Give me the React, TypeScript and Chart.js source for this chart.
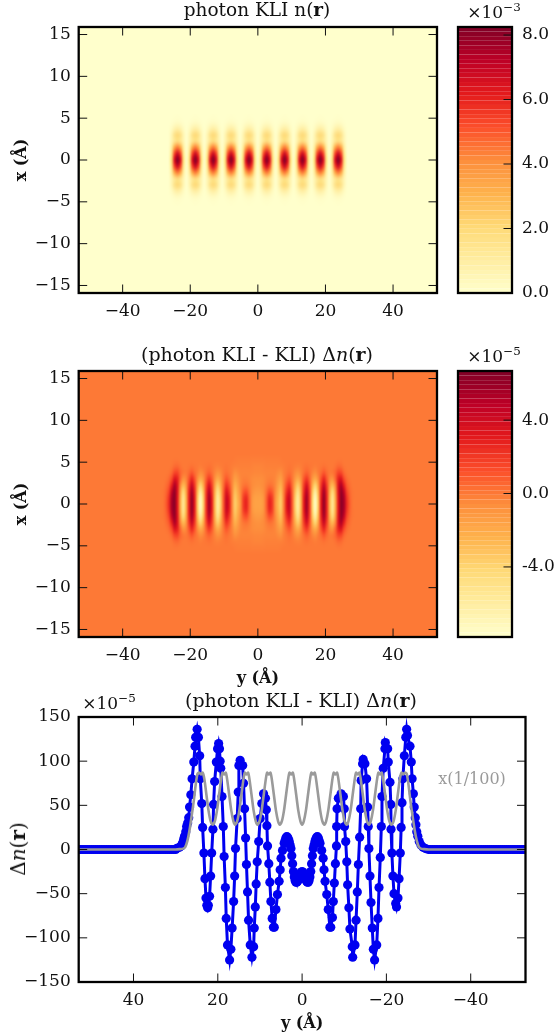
import React, { useEffect, useRef } from "react";
import { Chart, registerables } from "chart.js";

Chart.register(...registerables);

const SERIF = "'DejaVu Serif', serif";
const TICK_FONT = { family: "'DejaVu Serif', serif", size: 17 };

const yTicks40 = [-40, -20, 0, 20, 40];
const xTicks15 = [-15, -10, -5, 0, 5, 10, 15];
const lineTicksY = [-150, -100, -50, 0, 50, 100, 150];
const densityBarTicks = [0, 2, 4, 6, 8];
const diffBarTicks = [-4, 0, 4];

// Colormap stops (low to high)
const heatStops = ["#ffffcc", "#ffeda0", "#fed976", "#feb24c", "#fd8d3c", "#fc4e2a", "#e31a1c", "#bd0026", "#800026"];

// Panel 1: quadrant of the density map, unit 1e-3. Columns are |y| in angstrom, rows are |x|.
const densityColsY = [0, 0.88, 1.76, 2.64, 3.52, 4.4, 5.28, 6.16, 7.04, 7.92, 8.8, 9.68, 10.56, 11.44, 12.32, 13.2, 14.08, 14.96, 15.84, 16.72, 17.6, 18.48, 19.36, 20.24, 21.12, 22, 22.88, 23.76, 24.64, 25.52, 26.4, 27.28, 28.16];
const densityRowsX = [0, 0.75, 1.5, 2.25, 3, 3.75, 4.5, 5.25, 6];
const densityRow0 = [0.1, 2, 6.6, 8.2, 6.6, 2, 0.1, 2, 6.6, 8.2, 6.6, 2, 0.1, 2, 6.6, 8.2, 6.6, 2, 0.1, 2, 6.6, 8.2, 6.6, 2, 0.1, 2, 6.6, 8.2, 6.6, 2, 0.1, 0, 0];
const densityRow1 = [0.08, 1.6, 5.4, 6.8, 5.4, 1.6, 0.08, 1.6, 5.4, 6.8, 5.4, 1.6, 0.08, 1.6, 5.4, 6.8, 5.4, 1.6, 0.08, 1.6, 5.4, 6.8, 5.4, 1.6, 0.08, 1.6, 5.4, 6.8, 5.4, 1.6, 0.08, 0, 0];
const densityRow2 = [0.05, 1.1, 3.4, 4.4, 3.4, 1.1, 0.05, 1.1, 3.4, 4.4, 3.4, 1.1, 0.05, 1.1, 3.4, 4.4, 3.4, 1.1, 0.05, 1.1, 3.4, 4.4, 3.4, 1.1, 0.05, 1.1, 3.4, 4.4, 3.4, 1.1, 0.05, 0, 0];
const densityRow3 = [0.03, 0.6, 1.4, 1.8, 1.4, 0.6, 0.03, 0.6, 1.4, 1.8, 1.4, 0.6, 0.03, 0.6, 1.4, 1.8, 1.4, 0.6, 0.03, 0.6, 1.4, 1.8, 1.4, 0.6, 0.03, 0.6, 1.4, 1.8, 1.4, 0.6, 0.03, 0, 0];
const densityRow4 = [0.03, 0.6, 1.6, 2, 1.6, 0.6, 0.03, 0.6, 1.6, 2, 1.6, 0.6, 0.03, 0.6, 1.6, 2, 1.6, 0.6, 0.03, 0.6, 1.6, 2, 1.6, 0.6, 0.03, 0.6, 1.6, 2, 1.6, 0.6, 0.03, 0, 0];
const densityRow5 = [0.02, 0.25, 0.7, 0.9, 0.7, 0.25, 0.02, 0.25, 0.7, 0.9, 0.7, 0.25, 0.02, 0.25, 0.7, 0.9, 0.7, 0.25, 0.02, 0.25, 0.7, 0.9, 0.7, 0.25, 0.02, 0.25, 0.7, 0.9, 0.7, 0.25, 0.02, 0, 0];
const densityRow6 = [0, 0.05, 0.15, 0.2, 0.15, 0.05, 0, 0.05, 0.15, 0.2, 0.15, 0.05, 0, 0.05, 0.15, 0.2, 0.15, 0.05, 0, 0.05, 0.15, 0.2, 0.15, 0.05, 0, 0.05, 0.15, 0.2, 0.15, 0.05, 0, 0, 0];
const densityRow7 = [0, 0, 0.02, 0.03, 0.02, 0, 0, 0, 0.02, 0.03, 0.02, 0, 0, 0, 0.02, 0.03, 0.02, 0, 0, 0, 0.02, 0.03, 0.02, 0, 0, 0, 0.02, 0.03, 0.02, 0, 0, 0, 0];
const densityRow8 = [0, 0, 0, 0, 0, 0, 0, 0, 0, 0, 0, 0, 0, 0, 0, 0, 0, 0, 0, 0, 0, 0, 0, 0, 0, 0, 0, 0, 0, 0, 0, 0, 0];
const densityRows = [densityRow0, densityRow1, densityRow2, densityRow3, densityRow4, densityRow5, densityRow6, densityRow7, densityRow8];

// Panel 2: quadrant of the difference map, unit 1e-5.
const diffColsY = [0, 0.85, 1.7, 2.55, 3.4, 4.25, 5.1, 5.95, 6.8, 7.65, 8.5, 9.35, 10.2, 11.05, 11.9, 12.75, 13.6, 14.45, 15.3, 16.15, 17, 17.85, 18.7, 19.55, 20.4, 21.25, 22.1, 22.95, 23.8, 24.65, 25.5, 26.35, 27.2, 28.05, 28.9];
const diffRowsX = [0, 0.75, 1.5, 2.25, 3, 3.75, 4.5, 5.25, 6];
const diffRow0 = [-1.6, -1.6, -1, 0.8, 2.8, 2, -0.6, -2.6, -3.6, -0.2, 3.2, 4.4, 0.8, -3.8, -6, -2.5, 3, 5.6, 2, -4, -7.5, -3.4, 3, 6, 2.6, -2.6, -5.5, -2, 3.2, 6.3, 5.4, 2.4, 0.8, 0.1, 0];
const diffRow1 = [-1.5, -1.5, -0.9, 0.7, 2.5, 1.8, -0.5, -2.4, -3.4, -0.2, 3, 4.2, 0.8, -3.6, -5.8, -2.4, 2.9, 5.5, 2, -3.8, -7.2, -3.2, 2.9, 5.9, 2.6, -2.5, -5.3, -1.8, 3.2, 6.2, 5.2, 2.2, 0.7, 0.1, 0];
const diffRow2 = [-1.2, -1.1, -0.6, 0.3, 1.3, 0.9, -0.4, -2, -2.9, -0.2, 2.2, 3.4, 0.6, -3, -5, -2, 2.4, 4.8, 1.8, -3.2, -6, -2.6, 2.6, 5.4, 2.4, -2, -4.3, -1.2, 3.4, 6, 4.4, 1.6, 0.5, 0.1, 0];
const diffRow3 = [-0.8, -0.7, -0.5, -0.1, 0.2, 0.1, -0.4, -1.5, -2.2, -0.3, 1.3, 2.2, 0.3, -2.2, -3.6, -1.4, 1.8, 3.6, 1.3, -2.2, -4, -1.6, 2, 4.2, 1.8, -1.2, -2.6, -0.3, 3.4, 5.2, 2.8, 0.9, 0.3, 0, 0];
const diffRow4 = [-0.6, -0.6, -0.5, -0.3, -0.2, -0.2, -0.4, -1, -1.4, -0.3, 0.5, 1, 0.1, -1.2, -2, -0.7, 1, 2, 0.7, -1.1, -2, -0.6, 1.2, 2.6, 1, -0.4, -0.8, 0.6, 2.8, 3.4, 1.4, 0.4, 0.1, 0, 0];
const diffRow5 = [-0.4, -0.4, -0.35, -0.3, -0.3, -0.3, -0.3, -0.5, -0.7, -0.2, 0.1, 0.3, 0, -0.5, -0.8, -0.3, 0.3, 0.7, 0.3, -0.3, -0.6, -0.1, 0.4, 1, 0.4, 0, 0.1, 0.6, 1.6, 1.5, 0.5, 0.1, 0, 0, 0];
const diffRow6 = [-0.3, -0.3, -0.25, -0.2, -0.2, -0.2, -0.2, -0.2, -0.2, -0.1, 0, 0.1, 0, -0.1, -0.2, -0.1, 0.1, 0.2, 0.1, 0, -0.1, 0, 0.1, 0.2, 0.1, 0, 0, 0.2, 0.5, 0.4, 0.1, 0, 0, 0, 0];
const diffRow7 = [-0.15, -0.15, -0.15, -0.1, -0.1, -0.1, -0.1, -0.1, -0.05, 0, 0, 0, 0, 0, 0, 0, 0, 0, 0, 0, 0, 0, 0, 0, 0, 0, 0, 0, 0.05, 0.05, 0, 0, 0, 0, 0];
const diffRow8 = [0, 0, 0, 0, 0, 0, 0, 0, 0, 0, 0, 0, 0, 0, 0, 0, 0, 0, 0, 0, 0, 0, 0, 0, 0, 0, 0, 0, 0, 0, 0, 0, 0, 0, 0];
const diffRows = [diffRow0, diffRow1, diffRow2, diffRow3, diffRow4, diffRow5, diffRow6, diffRow7, diffRow8];

// Panel 3: blue series
const blueY = [
  53, 52.5, 52, 51.5, 51, 50.5, 50, 49.5, 49, 48.5, 48, 47.5, 47, 46.5, 46, 45.5, 45, 44.5, 44, 43.5, 43, 42.5, 42, 41.5, 41, 40.5, 40, 39.5, 39, 38.5, 38, 37.5, 37, 36.5, 36, 35.5, 35, 34.5, 34, 33.5, 33, 32.5, 32, 31.5, 31, 30.5, 30,
  29.7, 29.1, 28.7, 28.4, 28.1, 27.9, 27.6, 27.4, 27.15, 26.9, 26.7, 26.4, 26.1, 25.7, 25.4, 25.25, 24.9, 24.6, 24.3, 24.15, 23.8, 23.6, 23.3, 23.05, 22.8, 22.6, 22.4, 22.25, 21.95, 21.7, 21.45, 21.15, 21, 20.75, 20.35, 20.05, 19.8,
  19.6, 19.45, 19.3, 19, 18.7, 18.5, 18.2, 18, 17.7, 17.2, 16.9, 16.6, 16.25, 16, 15.8, 15.4, 15.15, 15, 14.7,
  14.1, 13.9, 13.65, 13.4, 13.2, 12.95, 12.7, 12.3, 11.9, 11.5, 11.35, 11.1, 10.9, 10.65, 10.3, 9.95, 9.55, 9.15,
  8.7, 8.5, 8.35, 8.2, 7.9, 7.65, 7.4, 7.1, 6.8, 6.6, 6.2, 5.85, 5.45, 5.2, 5, 4.65, 4.25, 4.05, 3.85, 3.65, 3.45, 3.25, 3.05, 2.85, 2.65, 2.45, 2.25, 2.05, 1.85, 1.65, 1.45, 1.25, 1.05, 0.85, 0.65, 0.45, 0.25, 0,
  -0.25, -0.45, -0.65, -0.85, -1.05, -1.25, -1.45, -1.65, -1.85, -2.05, -2.25, -2.45, -2.65, -2.85, -3.05, -3.25, -3.45, -3.65, -3.85, -4.05, -4.25, -4.65, -5, -5.2, -5.45, -5.85, -6.2, -6.6,
  -6.8, -7.2, -7.4, -7.65, -7.9, -8.15, -8.2, -8.3, -8.6, -9.25,
  -9.8, -10, -10.05, -10.35, -10.6, -10.8, -11.1, -11.35, -11.9, -12,
  -12.55, -12.8, -13.1, -13.35, -13.65, -13.9, -14, -14.35, -14.5,
  -14.9, -15.3, -15.55, -15.7, -15.85, -16.1, -16.35, -16.65, -16.9, -17.2,
  -17.7, -18, -18.25, -18.55, -18.8, -18.95, -19.25, -19.65, -19.75,
  -20.3, -20.45, -20.85, -21.05, -21.1, -21.3, -21.55, -21.8, -22.2, -22.4,
  -22.75, -23, -23.3, -23.5, -23.7, -23.9, -24.25, -24.6, -24.8,
  -25, -25.6, -25.9, -26.1, -26.4, -26.6, -26.85, -27, -27.2, -27.45, -27.8, -28.2, -28.7, -29.3,
  -30, -30.5, -31, -31.5, -32, -32.5, -33, -33.5, -34, -34.5, -35, -35.5, -36, -36.5, -37, -37.5, -38, -38.5, -39, -39.5, -40, -40.5, -41, -41.5, -42, -42.5, -43, -43.5, -44, -44.5, -45, -45.5, -46, -46.5, -47, -47.5, -48, -48.5, -49, -49.5, -50, -50.5, -51, -51.5, -52, -52.5, -53,
];
const blueDelta = [
  0, 0, 0, 0, 0, 0, 0, 0, 0, 0, 0, 0, 0, 0, 0, 0, 0, 0, 0, 0, 0, 0, 0, 0, 0, 0, 0, 0, 0, 0, 0, 0, 0, 0, 0, 0, 0, 0, 0, 0, 0, 0, 0, 0, 0, 0, 0,
  1.3, 2.5, 4, 7, 11.5, 15, 20, 26, 30, 36, 48, 62, 80, 99, 117, 127, 136, 127, 106, 80, 52, 25, -4, -33, -55, -63, -66, -63, -53, -30, -4, 23, 51, 77, 99, 114, 120,
  114, 100, 92, 60, 26, -8, -43, -78, -108, -125, -113, -89, -59, -30, 1, 35, 65, 95, 101,
  95, 75, 46, 13, -17, -48, -80, -108, -122, -110, -89, -65, -39, -14, 9, 35, 52, 63,
  58, 45, 27, 4, -16, -37, -59, -78, -88, -88, -68, -51, -36, -23, -10, -1, 7, 10, 13, 14.5, 14, 12, 9, 5, 1, -7, -16, -25, -31, -35, -37, -37, -36, -34, -31, -28, -26, -25,
  -26, -28, -31, -34, -36, -37, -37, -35, -31, -25, -16, -7, 1, 5, 9, 12, 14, 14.5, 13, 10, 7, -1, -10, -23, -36, -51, -68, -88,
  -88, -77, -59, -38, -16, 4, 26, 46, 58, 63,
  60, 46, 26, 9, -14, -40, -66, -90, -110, -122,
  -108, -80, -48, -17, 14, 46, 78, 97, 102,
  97, 80, 48, 26, 1, -30, -60, -89, -113, -125,
  -108, -78, -43, -9, 26, 60, 92, 114, 121,
  114, 99, 76, 51, 23, -4, -30, -50, -61, -65,
  -55, -33, -4, 25, 53, 80, 106, 127, 136,
  129, 117, 99, 80, 63, 48, 36, 28, 20, 15, 9, 5, 2.5, 1,
  0, 0, 0, 0, 0, 0, 0, 0, 0, 0, 0, 0, 0, 0, 0, 0, 0, 0, 0, 0, 0, 0, 0, 0, 0, 0, 0, 0, 0, 0, 0, 0, 0, 0, 0, 0, 0, 0, 0, 0, 0, 0, 0, 0, 0, 0, 0,
];

// Panel 3: grey series (scaled by 1/100)
const greyY = [
  53, 45, 37, 30, 29, 28.2, 27.7, 27.2, 26.7, 26.2, 25.7, 25.2, 24.8, 24.4, 24, 23.6, 23.2, 22.7, 22.2, 21.7, 21.2,
  20.7, 20.2, 19.7, 19.2, 18.9, 18.5, 18.1, 17.8, 17.3, 16.8, 16.3, 15.9,
  15.4, 14.9, 14.4, 13.9, 13.6, 13.2, 12.8, 12.5, 12, 11.5, 11, 10.6,
  10.1, 9.6, 9.1, 8.6, 8.3, 7.9, 7.5, 7.2, 6.7, 6.2, 5.7, 5.3,
  4.8, 4.3, 3.8, 3.3, 3, 2.6, 2.2, 1.9, 1.4, 0.9, 0.4, 0,
  -0.4, -0.9, -1.4, -1.9, -2.2, -2.6, -3, -3.3, -3.8, -4.3, -4.8, -5.3,
  -5.7, -6.2, -6.7, -7.2, -7.5, -7.9, -8.3, -8.6, -9.1, -9.6, -10.1, -10.6,
  -11, -11.5, -12, -12.5, -12.8, -13.2, -13.6, -13.9, -14.4, -14.9, -15.4, -15.9,
  -16.3, -16.8, -17.3, -17.8, -18.1, -18.5, -18.9, -19.2, -19.7, -20.2, -20.7, -21.2,
  -21.7, -22.2, -22.7, -23.2, -23.6, -24, -24.4, -24.8, -25.2, -25.7, -26.2, -26.7, -27.2, -27.7, -28.2, -29, -30, -37, -45, -53,
];
const greyDelta = [
  0, 0, 0, 0, 0.4, 1, 3, 10, 22, 38, 55, 75, 86, 87, 85, 87, 80, 62, 44, 32, 28,
  32, 44, 62, 80, 87, 85, 87, 80, 62, 44, 32, 28,
  32, 44, 62, 80, 87, 85, 87, 80, 62, 44, 32, 28,
  32, 44, 62, 80, 87, 85, 87, 80, 62, 44, 32, 28,
  32, 44, 62, 80, 87, 85, 87, 80, 62, 44, 32, 28,
  32, 44, 62, 80, 87, 85, 87, 80, 62, 44, 32, 28,
  32, 44, 62, 80, 87, 85, 87, 80, 62, 44, 32, 28,
  32, 44, 62, 80, 87, 85, 87, 80, 62, 44, 32, 28,
  32, 44, 62, 80, 87, 85, 87, 80, 62, 44, 32, 28,
  32, 44, 62, 80, 87, 85, 87, 86, 75, 55, 38, 22, 10, 3, 1, 0.4, 0, 0, 0, 0,
];

function hexRgb(h: string) {
  return [parseInt(h.slice(1, 3), 16), parseInt(h.slice(3, 5), 16), parseInt(h.slice(5, 7), 16)];
}
function heatRgb(t: number) {
  const c = Math.min(1, Math.max(0, t)) * (heatStops.length - 1);
  const i = Math.min(heatStops.length - 2, Math.floor(c));
  const a = hexRgb(heatStops[i]);
  const b = hexRgb(heatStops[i + 1]);
  const f = c - i;
  return [0, 1, 2].map((k) => Math.round(a[k] + (b[k] - a[k]) * f));
}
function cssRgb(t: number) {
  const [r, g, b] = heatRgb(t);
  return `rgb(${r},${g},${b})`;
}

// Inward tick marks and the box round the axes, placed through the scales.
const framePlugin = {
  id: "frame",
  afterDatasetsDraw(chart: any) {
    const { ctx, chartArea: a, scales } = chart;
    const only = chart.options.plugins.frame?.rightOnly;
    ctx.save();
    ctx.strokeStyle = "#111";
    ctx.lineWidth = 1;
    const L = 8.5;
    ctx.beginPath();
    if (!only) {
      for (const t of scales.x.ticks) {
        const p = scales.x.getPixelForValue(t.value);
        ctx.moveTo(p, a.top);
        ctx.lineTo(p, a.top + L);
        ctx.moveTo(p, a.bottom);
        ctx.lineTo(p, a.bottom - L);
      }
    }
    for (const t of scales.y.ticks) {
      const p = scales.y.getPixelForValue(t.value);
      if (!only) {
        ctx.moveTo(a.left, p);
        ctx.lineTo(a.left + L, p);
      }
      ctx.moveTo(a.right, p);
      ctx.lineTo(a.right - L, p);
    }
    ctx.stroke();
    ctx.strokeStyle = "#000";
    ctx.lineWidth = 2.3;
    ctx.strokeRect(a.left, a.top, a.right - a.left, a.bottom - a.top);
    ctx.restore();
  },
};

function cellData(cols: number[], rowsX: number[], rows: number[][]) {
  const fullCols = [...cols.slice(1).reverse().map((v) => -v), ...cols];
  const fullRows = [...rowsX.slice().reverse(), ...rowsX.slice(1).map((v) => -v)];
  const rowsAll = [...rows.slice().reverse(), ...rows.slice(1)];
  const cells: { x: number; y: number; v: number }[] = [];
  fullRows.forEach((rx, j) => {
    const r = rowsAll[j];
    const row = [...r.slice(1).reverse(), ...r];
    fullCols.forEach((cy, i) => cells.push({ x: cy, y: rx, v: row[i] }));
  });
  return { cells, nx: fullCols.length, ny: fullRows.length, fullCols, fullRows };
}

function heatPlugin(grid: ReturnType<typeof cellData>, vmin: number, vmax: number) {
  return {
    id: "heat",
    beforeDatasetsDraw(chart: any) {
      const { ctx, chartArea: a, scales } = chart;
      const off = document.createElement("canvas");
      off.width = grid.nx;
      off.height = grid.ny;
      const octx = off.getContext("2d") as CanvasRenderingContext2D;
      const img = octx.createImageData(grid.nx, grid.ny);
      const data = chart.data.datasets[0].data;
      data.forEach((c: any, n: number) => {
        const [r, g, b] = heatRgb((c.v - vmin) / (vmax - vmin));
        img.data[n * 4] = r;
        img.data[n * 4 + 1] = g;
        img.data[n * 4 + 2] = b;
        img.data[n * 4 + 3] = 255;
      });
      octx.putImageData(img, 0, 0);
      const dx = grid.fullCols[1] - grid.fullCols[0];
      const dy = grid.fullRows[0] - grid.fullRows[1];
      const left = scales.x.getPixelForValue(grid.fullCols[0] - dx / 2);
      const right = scales.x.getPixelForValue(grid.fullCols[grid.nx - 1] + dx / 2);
      const top = scales.y.getPixelForValue(grid.fullRows[0] + dy / 2);
      const bottom = scales.y.getPixelForValue(grid.fullRows[grid.ny - 1] - dy / 2);
      ctx.save();
      ctx.fillStyle = cssRgb((0 - vmin) / (vmax - vmin));
      ctx.fillRect(a.left, a.top, a.right - a.left, a.bottom - a.top);
      ctx.imageSmoothingEnabled = true;
      ctx.imageSmoothingQuality = "high";
      ctx.drawImage(off, left, top, right - left, bottom - top);
      ctx.restore();
    },
  };
}

const barPlugin = {
  id: "bandBar",
  beforeDatasetsDraw(chart: any) {
    const { ctx, chartArea: a, scales } = chart;
    const pts = chart.data.datasets[0].data;
    const lo = scales.y.min;
    const hi = scales.y.max;
    ctx.save();
    pts.forEach((p: any) => {
      const top = scales.y.getPixelForValue(p.y2);
      const bot = scales.y.getPixelForValue(p.y);
      ctx.fillStyle = cssRgb(((p.y + p.y2) / 2 - lo) / (hi - lo));
      ctx.fillRect(a.left, top, a.right - a.left, bot - top);
    });
    ctx.restore();
  },
};

function fmtMinus(v: number | string) {
  return String(v).replace("-", "\u2212");
}

function axisX(ticks: number[], h: number, reverse: boolean, title?: string, titleBottom = 0) {
  return {
    type: "linear",
    min: -53,
    max: 53,
    reverse,
    grid: { display: false, drawTicks: false },
    border: { display: false },
    afterBuildTicks: (s: any) => {
      s.ticks = ticks.map((value) => ({ value }));
    },
    afterFit: (s: any) => {
      s.height = h;
    },
    ticks: { font: TICK_FONT, color: "#111", padding: 8, maxRotation: 0, autoSkip: false, callback: (v: number) => fmtMinus(v) },
    title: title ? { display: true, text: title, font: { family: SERIF, size: 16, weight: "bold" }, color: "#111", padding: { top: 0, bottom: titleBottom } } : { display: false },
  };
}

function axisY(ticks: number[], min: number, max: number, w: number, title?: string) {
  return {
    type: "linear",
    min,
    max,
    grid: { display: false, drawTicks: false },
    border: { display: false },
    afterBuildTicks: (s: any) => {
      s.ticks = ticks.map((value) => ({ value }));
    },
    afterFit: (s: any) => {
      s.width = w;
    },
    ticks: { font: TICK_FONT, color: "#111", padding: 8, autoSkip: false, callback: (v: number) => fmtMinus(v) },
    title: title ? { display: true, text: title, font: { family: SERIF, size: 16, weight: "bold" }, color: "#111", padding: { top: 12, bottom: 0 } } : { display: false },
  };
}

function useChart(make: (c: HTMLCanvasElement) => Chart) {
  const ref = useRef<HTMLCanvasElement>(null);
  useEffect(() => {
    const c = make(ref.current as HTMLCanvasElement);
    return () => c.destroy();
  }, []);
  return ref;
}

function HeatPanel(props: { top: number; height: number; xh: number; xTitle?: string; titleBottom?: number; grid: ReturnType<typeof cellData>; vmin: number; vmax: number; label: string }) {
  const { top, height, xh, xTitle, titleBottom, grid, vmin, vmax, label } = props;
  const ref = useChart(
    (c) =>
      new Chart(c, {
        type: "scatter",
        data: { datasets: [{ label, data: grid.cells, pointRadius: 0, pointHitRadius: 0 }] },
        options: {
          animation: false,
          responsive: false,
          devicePixelRatio: 1,
          layout: { padding: { left: 0, right: 445 - 437, top: 27, bottom: 0 } },
          plugins: { legend: { display: false }, tooltip: { enabled: false } },
          scales: { x: axisX(yTicks40, xh, false, xTitle, titleBottom), y: axisY(xTicks15, -15.9, 15.9, 78.7, "x (Å)") },
        } as any,
        plugins: [heatPlugin(grid, vmin, vmax), framePlugin],
      } as any)
  );
  return <canvas ref={ref} width={445} height={height} style={{ position: "absolute", left: 0, top, display: "block" }} />;
}

function ColorBar(props: { top: number; height: number; bottomPad: number; vmin: number; vmax: number; ticks: number[]; label: string }) {
  const { top, height, bottomPad, vmin, vmax, ticks, label } = props;
  const levels = 58;
  const bands: { x: number; y: number; y2: number }[] = [];
  for (let i = 0; i < levels; i++) bands.push({ x: 0, y: vmin + ((vmax - vmin) * i) / levels, y2: vmin + ((vmax - vmin) * (i + 1)) / levels });
  const ref = useChart(
    (c) =>
      new Chart(c, {
        type: "scatter",
        data: { datasets: [{ label, data: bands, pointRadius: 0 }] },
        options: {
          animation: false,
          responsive: false,
          devicePixelRatio: 1,
          layout: { padding: { left: 13, right: 0, top: 27, bottom: bottomPad } },
          plugins: { legend: { display: false }, tooltip: { enabled: false }, frame: { rightOnly: true } },
          scales: {
            x: { type: "linear", display: false, min: 0, max: 1 },
            y: {
              type: "linear",
              position: "right",
              min: vmin,
              max: vmax,
              grid: { display: false, drawTicks: false },
              border: { display: false },
              afterBuildTicks: (s: any) => {
                s.ticks = ticks.map((value) => ({ value }));
              },
              afterFit: (s: any) => {
                s.width = 43;
              },
              ticks: { font: TICK_FONT, color: "#111", padding: 10, autoSkip: false, callback: (v: number) => Number(v).toFixed(1) },
            },
          },
        } as any,
        plugins: [barPlugin, framePlugin],
      } as any)
  );
  return <canvas ref={ref} width={110} height={height} style={{ position: "absolute", left: 445, top, display: "block" }} />;
}

function LinePanel() {
  const ref = useChart(
    (c) =>
      new Chart(c, {
        type: "line",
        data: {
          datasets: [
            {
              label: "x(1/100)",
              data: greyY.map((x, i) => ({ x, y: greyDelta[i] })),
              borderColor: "#9a9a9a",
              borderWidth: 2.6,
              pointRadius: 0,
              tension: 0.25,
            },
            {
              label: "Δn(r)",
              data: blueY.map((x, i) => ({ x, y: blueDelta[i] })),
              borderColor: "#0000f0",
              backgroundColor: "#0000f0",
              borderWidth: 3,
              pointRadius: 4.6,
              pointBorderWidth: 0,
              tension: 0,
            },
          ],
        },
        options: {
          animation: false,
          responsive: false,
          devicePixelRatio: 1,
          layout: { padding: { left: 0, right: 555 - 525.5, top: 37, bottom: 0 } },
          plugins: { legend: { display: false }, tooltip: { enabled: false } },
          scales: { x: axisX(yTicks40, 51, true, "y (Å)"), y: axisY(lineTicksY, -150, 150, 78.7) },
        } as any,
        plugins: [framePlugin],
      } as any)
  );
  return <canvas ref={ref} width={555} height={353} style={{ position: "absolute", left: 0, top: 680, display: "block" }} />;
}

const textBase: React.CSSProperties = { position: "absolute", fontFamily: SERIF, color: "#111", whiteSpace: "nowrap", lineHeight: 1 };

function Caption(props: { cx: number; cy: number; size?: number; children: React.ReactNode; color?: string; rotate?: boolean }) {
  const { cx, cy, size = 16, children, color, rotate } = props;
  return (
    <div style={{ ...textBase, left: cx, top: cy, fontSize: size, color: color || "#111", transform: `translate(-50%,-50%)${rotate ? " rotate(-90deg)" : ""}` }}>
      {children}
    </div>
  );
}

const Dn = () => (
  <span>
    Δ<i>n</i>(<b>r</b>)
  </span>
);
const Power = (props: { e: string }) => (
  <span>
    ×10<sup style={{ fontSize: "0.7em", lineHeight: 0, verticalAlign: "0.55em" }}>−{props.e}</sup>
  </span>
);

const densityGrid = cellData(densityColsY, densityRowsX, densityRows);
const diffGrid = cellData(diffColsY, diffRowsX, diffRows);

export default function App() {
  return (
    <div style={{ position: "absolute", left: 0, top: 0, width: 555, height: 1033, background: "#fff", overflow: "hidden" }}>
      <HeatPanel top={0} height={340} xh={47} grid={densityGrid} vmin={0} vmax={8.25} label="photon KLI n(r)" />
      <ColorBar top={0} height={340} bottomPad={47} vmin={0} vmax={8.25} ticks={densityBarTicks} label="density" />
      <HeatPanel top={344} height={346} xh={53} xTitle="y (Å)" titleBottom={2} grid={diffGrid} vmin={-7.82} vmax={6.68} label="(photon KLI - KLI) Δn(r)" />
      <ColorBar top={344} height={346} bottomPad={53} vmin={-7.82} vmax={6.68} ticks={diffBarTicks} label="difference" />
      <LinePanel />
      <Caption cx={257} cy={10} size={18.5}>
        photon KLI n(<b>r</b>)
      </Caption>
      <Caption cx={257} cy={354} size={19}>
        (photon KLI - KLI) <Dn />
      </Caption>
      <Caption cx={301} cy={700} size={19}>
        (photon KLI - KLI) <Dn />
      </Caption>
      <Caption cx={494} cy={12} size={17}>
        <Power e="3" />
      </Caption>
      <Caption cx={494} cy={356} size={17}>
        <Power e="5" />
      </Caption>
      <Caption cx={109} cy={703} size={17}>
        <Power e="5" />
      </Caption>
      <Caption cx={18} cy={849} size={20} rotate>
        <Dn />
      </Caption>
      <Caption cx={472} cy={779} color="#9a9a9a">
        x(1/100)
      </Caption>
    </div>
  );
}
